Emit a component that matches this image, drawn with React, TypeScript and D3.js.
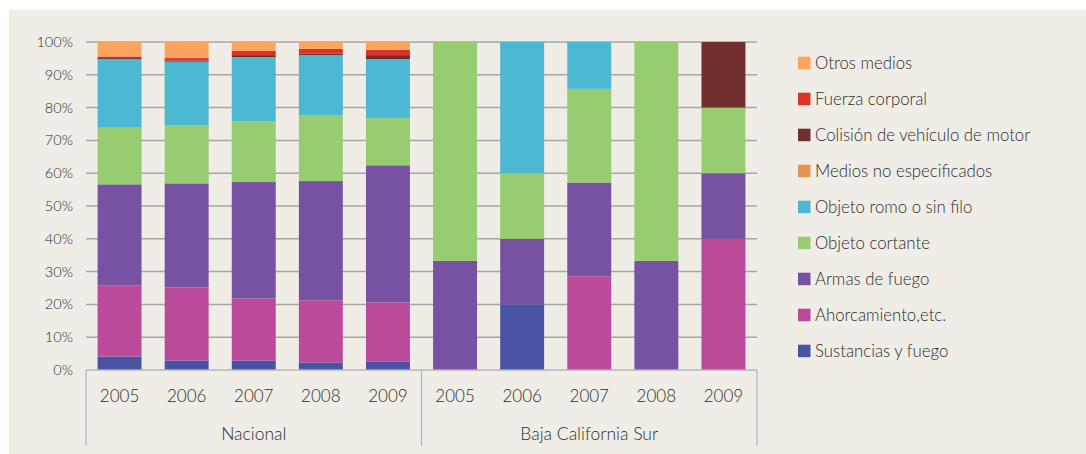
import React from "react";
import * as d3 from "d3";

const groups = ["Nacional", "Baja California Sur"];
const years = ["2005", "2006", "2007", "2008", "2009"];
const seriesNames = [
  "Sustancias y fuego",
  "Ahorcamiento,etc.",
  "Armas de fuego",
  "Objeto cortante",
  "Objeto romo o sin filo",
  "Medios no especificados",
  "Colisión de vehículo de motor",
  "Fuerza corporal",
  "Otros medios",
];
const seriesColors = [
  "#4853A3",
  "#BB4A9A",
  "#7752A3",
  "#97CC71",
  "#4DB8D1",
  "#E39552",
  "#722F2E",
  "#DC3328",
  "#FBA45F",
];
// values per category (Nacional 2005..2009, BCS 2005..2009), one array per series
const sustancias = [4.1, 2.9, 2.9, 2.3, 2.6, 0, 20, 0, 0, 0];
const ahorcamiento = [21.7, 22.3, 18.9, 18.9, 18.0, 0, 0, 28.6, 0, 40];
const armas = [30.8, 31.7, 35.5, 36.4, 41.8, 33.3, 20, 28.6, 33.3, 20];
const cortante = [17.3, 17.7, 18.6, 20.1, 14.4, 66.7, 20, 28.6, 66.7, 20];
const romo = [20.9, 19.4, 19.5, 18.3, 18.0, 0, 40, 14.3, 0, 0];
const noEspecificados = [0, 0, 0, 0, 0, 0, 0, 0, 0, 0];
const colision = [0.3, 0.3, 0.6, 0.5, 1.2, 0, 0, 0, 0, 20];
const fuerza = [0.5, 0.8, 1.3, 1.4, 1.6, 0, 0, 0, 0, 0];
const otros = [4.4, 4.9, 2.7, 2.1, 2.4, 0, 0, 0, 0, 0];
const yTicks = [0, 10, 20, 30, 40, 50, 60, 70, 80, 90, 100];

const seriesValues = [sustancias, ahorcamiento, armas, cortante, romo, noEspecificados, colision, fuerza, otros];

export default function App() {
  const W = 1086;
  const H = 454;
  const left = 86;
  const right = 757;
  const top = 42;
  const bottom = 370;
  const font = "Lato, 'Open Sans', sans-serif";
  const textColor = "#2e2e2e";

  const cats = groups.flatMap((g) => years.map((y) => `${g}|${y}`));
  const x = d3.scaleBand<string>().domain(cats).range([left, right]).paddingInner(0.345).paddingOuter(0.1725);
  const y = d3.scaleLinear().domain([0, 100]).range([bottom, top]);

  const rows = cats.map((c, i) => {
    const r: any = { cat: c };
    seriesNames.forEach((s, j) => (r[s] = seriesValues[j][i]));
    return r;
  });
  const stack = d3.stack<any>().keys(seriesNames).offset(d3.stackOffsetExpand);
  const stacked = stack(rows);

  const bandStep = (right - left) / cats.length;

  return (
    <svg width={W} height={H} style={{ position: "absolute", left: 0, top: 0, display: "block" }}>
      <rect x={0} y={0} width={W} height={H} fill="#ffffff" />
      <rect x={9} y={10} width={W - 9} height={H - 10} fill="#EFEDE6" />
      {yTicks.map((t) => (
        <g key={t}>
          {t > 0 && (
            <line x1={left} x2={right} y1={y(t)} y2={y(t)} stroke="#a6a6a6" strokeWidth={1.5} />
          )}
          <text
            x={73}
            y={y(t)}
            dy="0.35em"
            textAnchor="end"
            fontFamily={font}
            fontSize={14.5}
            fontWeight={300}
            fill={textColor}
          >
            {t}%
          </text>
        </g>
      ))}
      {stacked.map((layer, j) => (
        <g key={layer.key} fill={seriesColors[j]}>
          {layer.map((d, i) => {
            const h = y(d[0] * 100) - y(d[1] * 100);
            if (h <= 0) return null;
            return (
              <rect
                key={i}
                x={x(cats[i])}
                y={y(d[1] * 100)}
                width={x.bandwidth()}
                height={h}
              />
            );
          })}
        </g>
      ))}
      {/* category axis */}
      <line x1={left} x2={right} y1={bottom} y2={bottom} stroke="#b4b4b4" strokeWidth={1.5} />
      {[0, 5, 10].map((k) => (
        <line
          key={k}
          x1={left + k * bandStep}
          x2={left + k * bandStep}
          y1={bottom}
          y2={446}
          stroke="#b4b4b4"
          strokeWidth={1.2}
        />
      ))}
      {cats.map((c) => (
        <text
          key={c}
          x={(x(c) as number) + x.bandwidth() / 2}
          y={396}
          dy="0.35em"
          textAnchor="middle"
          fontFamily={font}
          fontSize={17}
          fontWeight={300}
          fill={textColor}
        >
          {c.split("|")[1]}
        </text>
      ))}
      {groups.map((g, gi) => (
        <text
          key={g}
          x={left + (gi * 5 + 2.5) * bandStep}
          y={434}
          dy="0.35em"
          textAnchor="middle"
          fontFamily={font}
          fontSize={17.5}
          fontWeight={300}
          fill={textColor}
        >
          {g}
        </text>
      ))}
      {/* legend */}
      {seriesNames
        .map((s, j) => ({ s, j }))
        .reverse()
        .map(({ s, j }, k) => {
          const cy = 62.7 + k * 36;
          return (
            <g key={s}>
              <rect x={798} y={cy - 6} width={12.5} height={12.5} fill={seriesColors[j]} />
              <text
                x={815}
                y={cy}
                dy="0.35em"
                fontFamily={font}
                fontSize={16.8}
                fontWeight={300}
                fill={textColor}
              >
                {s}
              </text>
            </g>
          );
        })}
    </svg>
  );
}
